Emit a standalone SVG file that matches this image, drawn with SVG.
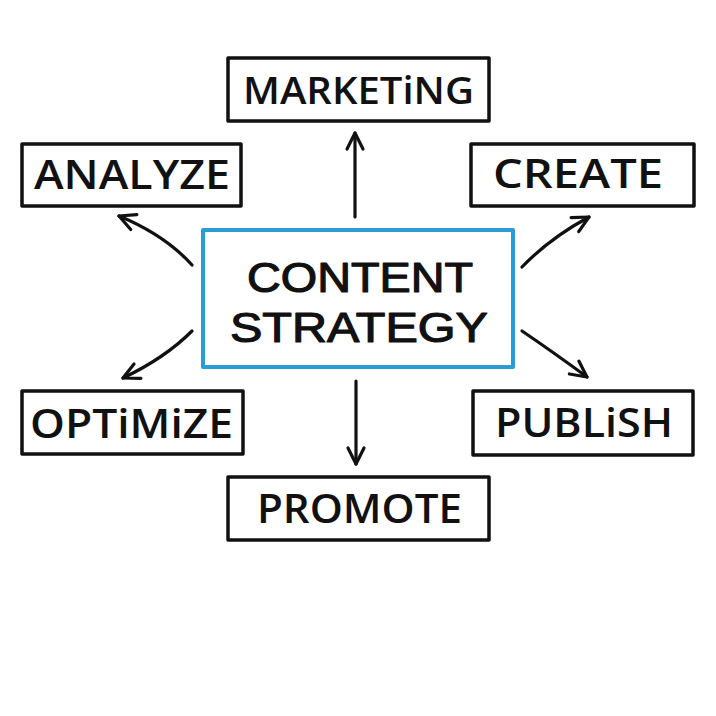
<svg xmlns="http://www.w3.org/2000/svg" width="716" height="716" viewBox="0 0 716 716">
<defs>
<marker id="ah" viewBox="0 0 22 22" refX="19" refY="11" markerWidth="22" markerHeight="22" markerUnits="userSpaceOnUse" orient="auto">
<path d="M3,3 L19,11 L3,19" fill="none" stroke="#111" stroke-width="3.2" stroke-linecap="round" stroke-linejoin="round"/>
</marker>
<style>
.box{fill:#fff;stroke:#111;stroke-width:3.5;stroke-linejoin:round}
.core{fill:#fff;stroke:#2b9cd3;stroke-width:4;stroke-linejoin:round}
.lbl{font-family:"Open Sans","Liberation Sans",sans-serif;font-weight:600;fill:#111}
.ctr{font-family:"Liberation Sans","Open Sans",sans-serif;font-weight:normal;fill:#111;stroke:#111;stroke-width:1.2;stroke-linejoin:round}
.con{fill:none;stroke:#111;stroke-width:3.2;stroke-linecap:round;marker-end:url(#ah)}
</style>
</defs>
<rect width="716" height="716" fill="#fff"/>
<g id="connectors">
<path class="con" d="M355,217 L355,133"/>
<path class="con" d="M356,381 L356,464"/>
<path class="con" d="M192,265 Q165,235 119,216"/>
<path class="con" d="M522,267 Q550,238 589,217"/>
<path class="con" d="M522,331 Q553,352 587,377"/>
<path class="con" d="M192,331 Q165,358 123,378"/>
</g>
<g id="content-strategy">
<rect class="core" x="203" y="230" width="310" height="137"/>
<text class="ctr" x="247" y="292" font-size="42" textLength="226" lengthAdjust="spacingAndGlyphs">CONTENT</text>
<text class="ctr" x="230" y="342" font-size="42" textLength="258" lengthAdjust="spacingAndGlyphs">STRATEGY</text>
</g>
<g id="marketing">
<rect class="box" x="228" y="58" width="261" height="63"/>
<text class="lbl" x="243" y="104" font-size="38" textLength="231" lengthAdjust="spacingAndGlyphs">MARKETiNG</text>
</g>
<g id="analyze">
<rect class="box" x="22" y="144" width="219" height="62"/>
<text class="lbl" x="34" y="189" font-size="39" textLength="196" lengthAdjust="spacingAndGlyphs">ANALYZE</text>
</g>
<g id="create">
<rect class="box" x="471" y="144" width="223" height="62"/>
<text class="lbl" x="493" y="188" font-size="39" textLength="170" lengthAdjust="spacingAndGlyphs">CREATE</text>
</g>
<g id="optimize">
<rect class="box" x="22" y="391" width="221" height="63"/>
<text class="lbl" x="30" y="438" font-size="39" textLength="203" lengthAdjust="spacingAndGlyphs">OPTiMiZE</text>
</g>
<g id="publish">
<rect class="box" x="473" y="391" width="220" height="64"/>
<text class="lbl" x="495" y="437" font-size="39" textLength="178" lengthAdjust="spacingAndGlyphs">PUBLiSH</text>
</g>
<g id="promote">
<rect class="box" x="228" y="477" width="261" height="63"/>
<text class="lbl" x="257" y="523" font-size="39" textLength="205" lengthAdjust="spacingAndGlyphs">PROMOTE</text>
</g>
</svg>
